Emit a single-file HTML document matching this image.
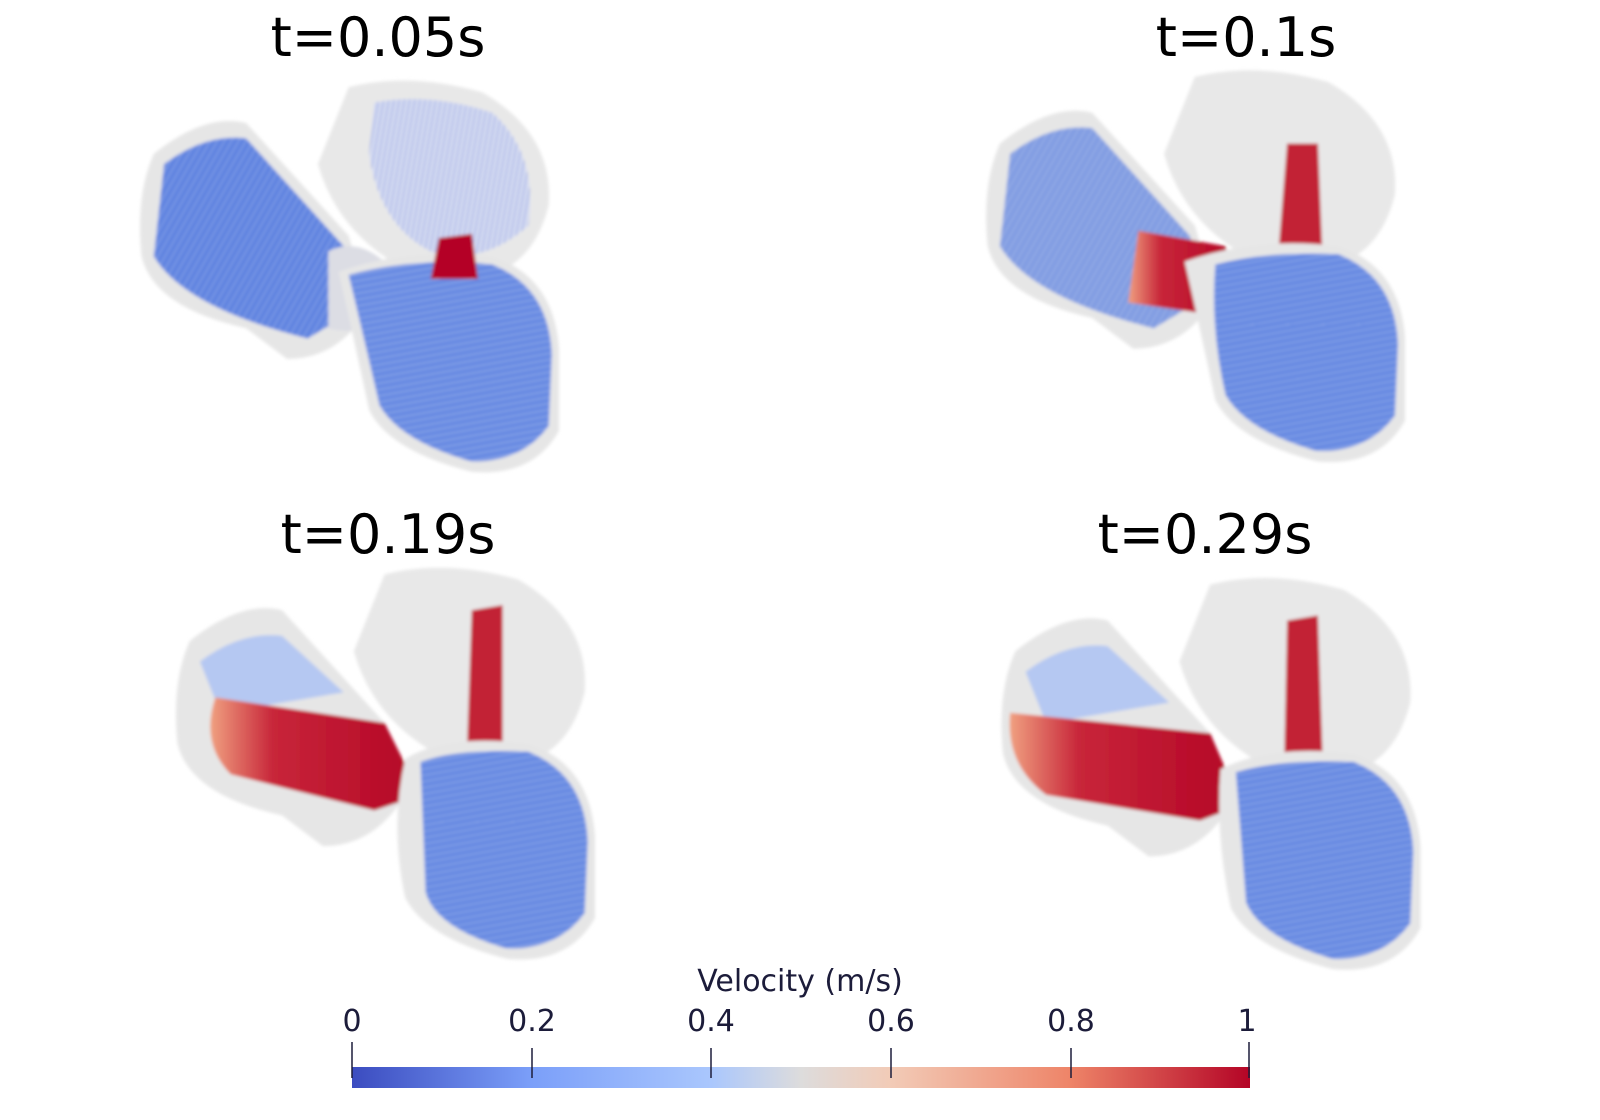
<!DOCTYPE html>
<html><head><meta charset="utf-8"><style>
html,body{margin:0;padding:0;background:#fff;}
svg{display:block}
text{font-family:"DejaVu Sans","Liberation Sans",sans-serif;}
</style></head><body>
<svg width="1600" height="1120" viewBox="0 0 1600 1120" xmlns="http://www.w3.org/2000/svg">
<defs>
<linearGradient id="cb" x1="0" x2="1" y1="0" y2="0">
<stop offset="0" stop-color="#3b4cc0"/><stop offset="0.2" stop-color="#7b9ff9"/>
<stop offset="0.4" stop-color="#aac7fd"/><stop offset="0.5" stop-color="#dddcdc"/>
<stop offset="0.6" stop-color="#f2cbb7"/><stop offset="0.8" stop-color="#ee8468"/>
<stop offset="1" stop-color="#b40426"/></linearGradient>
<pattern id="st" width="6" height="6" patternUnits="userSpaceOnUse" patternTransform="rotate(30)">
<rect width="6" height="6" fill="#5f83e0"/><line x1="0" y1="0" x2="0" y2="6" stroke="#a9bff0" stroke-width="1.2"/></pattern>
<pattern id="st2" width="6" height="6" patternUnits="userSpaceOnUse" patternTransform="rotate(80)">
<rect width="6" height="6" fill="#6689e2"/><line x1="0" y1="0" x2="0" y2="6" stroke="#b5c8f0" stroke-width="1.2"/></pattern>
<pattern id="st3" width="5" height="5" patternUnits="userSpaceOnUse" patternTransform="rotate(10)">
<rect width="5" height="5" fill="#d6dcf2"/><line x1="0" y1="0" x2="0" y2="5" stroke="#4e6ed8" stroke-width="1.2"/></pattern>
<linearGradient id="red1" x1="0" x2="1"><stop offset="0" stop-color="#f0a080"/><stop offset="0.3" stop-color="#c8263a"/><stop offset="1" stop-color="#b40426"/></linearGradient>
<filter id="bl"><feGaussianBlur stdDeviation="1.5"/></filter>
</defs>

<g transform="scale(1.0256)" filter="url(#bl)">
<g id="p1">
 <path d="M150,150 Q200,110 240,120 L340,230 L360,300 Q330,350 280,350 L240,320 Q150,300 138,250 Q132,190 150,150Z" fill="#e6e6e6"/>
 <path d="M160,160 Q200,130 240,135 L335,240 L350,300 L300,330 Q180,300 150,250Z" fill="url(#st)"/>
 <path d="M320,245 Q350,230 380,260 L390,300 Q360,330 320,320Z" fill="#dcdde4"/>
 <path d="M340,85 Q400,70 470,90 Q540,130 535,200 Q520,260 470,270 L400,265 Q330,230 310,160 Q330,110 340,85Z" fill="#e8e8e8"/>
 <path d="M365,100 Q420,90 480,110 Q525,150 515,220 Q470,260 420,245 Q370,220 360,150Z" fill="url(#st3)"/>
 <path d="M330,265 Q400,240 480,250 Q540,270 545,340 L545,420 Q520,465 460,460 Q380,440 360,400 Q345,330 330,265Z" fill="#e6e6e6"/>
 <path d="M340,268 Q410,250 480,258 Q535,280 538,345 L535,415 Q510,450 460,450 Q390,430 370,395 Q355,330 340,268Z" fill="url(#st2)"/>
 <path d="M428,232 L460,228 L466,272 L420,272Z" fill="#b40426"/>
</g>
<g id="p2" transform="translate(825,-10)">
 <path d="M150,150 Q200,110 240,120 L340,230 L360,300 Q330,350 280,350 L240,320 Q150,300 138,250 Q132,190 150,150Z" fill="#e6e6e6"/>
 <path d="M160,160 Q200,130 240,135 L335,240 L350,300 L300,330 Q180,300 150,250Z" fill="url(#st)" opacity="0.75"/>
 <path d="M285,235 L370,250 L380,320 L275,305Z" fill="url(#red1)"/>
 <path d="M340,85 Q400,70 470,90 Q540,130 535,200 Q520,260 470,270 L400,265 Q330,230 310,160 Q330,110 340,85Z" fill="#e8e8e8"/>
 <path d="M430,150 L460,150 L465,275 L420,275Z" fill="#c22036"/>
 <path d="M330,265 Q400,240 480,250 Q540,270 545,340 L545,420 Q520,465 460,460 Q380,440 360,400 Q345,330 330,265Z" fill="#e6e6e6"/>
 <path d="M360,268 Q410,255 480,258 Q535,280 538,345 L535,415 Q510,450 460,450 Q390,430 370,395 Q355,330 360,268Z" fill="url(#st2)"/>
</g>
<g id="p3" transform="translate(35,475)">
 <path d="M150,150 Q200,110 240,120 L340,230 L360,300 Q330,350 280,350 L240,320 Q150,300 138,250 Q132,190 150,150Z" fill="#e6e6e6"/>
 <path d="M160,170 Q200,140 240,145 L300,200 L180,220Z" fill="#a9c0f5" opacity="0.8"/>
 <path d="M175,205 L340,230 L375,300 L330,315 L190,280 Q160,250 175,205Z" fill="url(#red1)"/>
 <path d="M340,85 Q400,70 470,90 Q540,130 535,200 Q520,260 470,270 L400,265 Q330,230 310,160 Q330,110 340,85Z" fill="#e8e8e8"/>
 <path d="M425,120 L455,115 L455,265 L420,265Z" fill="#c22036"/>
 <path d="M360,265 Q400,240 480,250 Q540,270 545,340 L545,420 Q520,465 460,460 Q380,440 360,400 Q345,330 360,265Z" fill="#e6e6e6"/>
 <path d="M375,268 Q410,255 480,258 Q535,280 538,345 L535,415 Q510,450 460,450 Q390,430 380,395Z" fill="url(#st2)"/>
</g>
<g id="p4" transform="translate(840,485)">
 <path d="M150,150 Q200,110 240,120 L340,230 L360,300 Q330,350 280,350 L240,320 Q150,300 138,250 Q132,190 150,150Z" fill="#e6e6e6"/>
 <path d="M160,170 Q200,140 240,145 L300,200 L180,220Z" fill="#a9c0f5" opacity="0.8"/>
 <path d="M145,210 L340,230 L370,300 L330,315 L180,290 Q140,260 145,210Z" fill="url(#red1)"/>
 <path d="M340,85 Q400,70 470,90 Q540,130 535,200 Q520,260 470,270 L400,265 Q330,230 310,160 Q330,110 340,85Z" fill="#e8e8e8"/>
 <path d="M415,120 L445,115 L450,265 L412,265Z" fill="#c22036"/>
 <path d="M350,265 Q400,240 480,250 Q540,270 545,340 L545,420 Q520,465 460,460 Q380,440 360,400 Q345,330 350,265Z" fill="#e6e6e6"/>
 <path d="M365,268 Q410,255 480,258 Q535,280 538,345 L535,415 Q510,450 460,450 Q390,430 375,395Z" fill="url(#st2)"/>
</g>
</g>

<text x="378" y="56" font-size="54" text-anchor="middle" fill="#000">t=0.05s</text>
<text x="1246" y="56" font-size="54" text-anchor="middle" fill="#000">t=0.1s</text>
<text x="388" y="553" font-size="54" text-anchor="middle" fill="#000">t=0.19s</text>
<text x="1205" y="553" font-size="54" text-anchor="middle" fill="#000">t=0.29s</text>

<text x="800" y="991" font-size="30" text-anchor="middle" fill="#1c1c3a">Velocity (m/s)</text>
<rect x="352" y="1067" width="898" height="21" fill="url(#cb)"/>
<g stroke="#1c1c3a" stroke-width="1.5">
<line x1="352" y1="1042" x2="352" y2="1078"/><line x1="532" y1="1048" x2="532" y2="1078"/>
<line x1="711" y1="1048" x2="711" y2="1078"/><line x1="891" y1="1048" x2="891" y2="1078"/>
<line x1="1071" y1="1048" x2="1071" y2="1078"/><line x1="1249" y1="1042" x2="1249" y2="1078"/>
</g>
<g font-size="30" fill="#1c1c3a" text-anchor="middle">
<text x="352" y="1031">0</text><text x="532" y="1031">0.2</text><text x="711" y="1031">0.4</text>
<text x="891" y="1031">0.6</text><text x="1071" y="1031">0.8</text><text x="1247" y="1031">1</text>
</g>
</svg>
</body></html>
